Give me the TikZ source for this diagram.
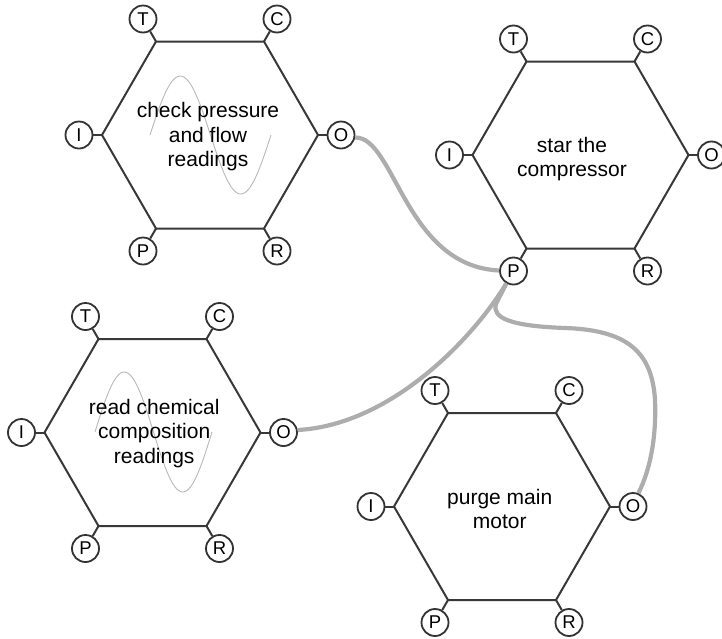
\documentclass[tikz,border=0pt]{standalone}
\usepackage{fontspec}
\setmainfont{Liberation Sans}

% One FRAM function: hexagon with its six aspect ports.
% #1 name, #2/#3 centre, #4/#5 label offset, #6 label text
\newcommand{\framfunction}[6]{%
  \begin{scope}[shift={(#2,#3)}]
    \coordinate (#1-vT) at (-54,-93.5);
    \coordinate (#1-vC) at (54,-93.5);
    \coordinate (#1-vO) at (108,0);
    \coordinate (#1-vR) at (54,93.5);
    \coordinate (#1-vP) at (-54,93.5);
    \coordinate (#1-vI) at (-108,0);
    \draw[edge] (#1-vT) -- (#1-vC) -- (#1-vO) -- (#1-vR) -- (#1-vP) -- (#1-vI) -- cycle;
    \node[fnlabel] (#1) at (#4,#5) {#6};
    \node[port] (#1-T) at (-67,-116) {T};
    \node[port] (#1-C) at (67,-116) {C};
    \node[port] (#1-O) at (131,0) {O};
    \node[port] (#1-R) at (67,116) {R};
    \node[port] (#1-P) at (-67,116) {P};
    \node[port] (#1-I) at (-131,0) {I};
    \foreach \asp in {T,C,O,R,P,I} \draw[stub] (#1-v\asp) -- (#1-\asp);
  \end{scope}}

\begin{document}
\begin{tikzpicture}[x=1pt,y=-1pt,
  edge/.style={draw=black!78, line width=2pt, line join=miter},
  stub/.style={draw=black!78, line width=2pt},
  port/.style={circle, draw=black!80, line width=1.8pt, fill=white,
    minimum size=27pt, inner sep=0pt, font=\fontsize{18.5}{18.5}\selectfont},
  fnlabel/.style={align=center, inner sep=0pt, font=\fontsize{21}{24.5}\selectfont},
  wave/.style={draw=black!28, line width=0.9pt},
  link/.style={draw=black!32, line width=4.2pt}]
\useasboundingbox (0,0) rectangle (722,638);

% variability marks
\draw[wave] plot[domain=0:121, samples=80, smooth] ({150+\x},{135-59*sin(2.97521*\x)});
\draw[wave] plot[domain=0:117, samples=80, smooth] ({95+\x},{432-60*sin(3.07692*\x)});

\framfunction{f1}{210}{135}{-2}{1.7}{check pressure\\and flow\\readings}
\framfunction{f2}{580.5}{155}{-8.5}{4}{star the\\compressor}
\framfunction{f3}{152.5}{432.5}{1.7}{0.8}{read chemical\\composition\\readings}
\framfunction{f4}{502}{506.5}{-2.3}{2.5}{purge main\\motor}

% couplings
\draw[link] (f1-O.-10) .. controls (395,137) and (405,266) .. (f2-P.178);
\draw[link] (f3-O.10) .. controls (390,425) and (472,340) .. (f2-P.240);
\draw[link] (f2-P.240) -- (496,304) .. controls (492,318) and (510,326) .. (565,328)
  .. controls (625,330) and (652,350) .. (655,400)
  .. controls (657,450) and (645,480) .. (f4-O.68);
\end{tikzpicture}
\end{document}
